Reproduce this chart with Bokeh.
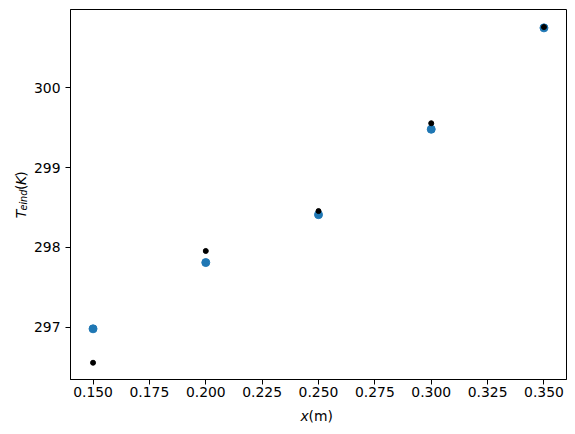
import math
from bokeh.plotting import figure
from bokeh.layouts import row, column
from bokeh.models import Range1d, FixedTicker, PrintfTickFormatter
from bokeh.core.properties import value
from bokeh.embed import file_html
from bokeh.resources import INLINE

# data
x_pos = [0.15, 0.20, 0.25, 0.30, 0.35]
t_model = [296.98, 297.81, 298.41, 299.48, 300.75]
t_meas = [296.555, 297.955, 298.455, 299.555, 300.76]
x_ticks = [0.150, 0.175, 0.200, 0.225, 0.250, 0.275, 0.300, 0.325, 0.350]
y_ticks = [297, 298, 299, 300]

FONT = "DejaVu Sans"
FS = "13.9px"
FS_SUB = "9.7px"

H = 404  # height of the main row

# ---- main plot ----
p = figure(width=545, height=H, output_backend="svg", toolbar_location=None,
           x_range=Range1d(0.14, 0.36), y_range=Range1d(296.345, 300.98),
           min_border_left=40, min_border_right=9, min_border_top=9,
           min_border_bottom=H - 379)
p.background_fill_color = "white"
p.border_fill_color = "white"
p.xgrid.visible = False
p.ygrid.visible = False
p.outline_line_color = "black"
p.outline_line_width = 1
p.outline_line_alpha = 1

p.xaxis.ticker = FixedTicker(ticks=x_ticks)
p.yaxis.ticker = FixedTicker(ticks=y_ticks)
p.xaxis.formatter = PrintfTickFormatter(format="%.3f")
p.yaxis.formatter = PrintfTickFormatter(format="%d")
for ax in (p.xaxis, p.yaxis):
    ax.axis_line_color = "black"
    ax.major_tick_line_color = "black"
    ax.major_tick_out = 5
    ax.major_tick_in = 0
    ax.minor_tick_line_color = None
    ax.major_label_text_font = FONT
    ax.major_label_text_font_size = FS
    ax.major_label_text_color = "black"
p.xaxis.major_label_standoff = 2
p.yaxis.major_label_standoff = 5

p.scatter(x_pos, t_model, size=8, color="#1f77b4")
p.scatter(x_pos, t_meas, size=5, color="black")


def blank(w, h):
    f = figure(width=w, height=h, output_backend="svg", toolbar_location=None,
               x_range=Range1d(0, w), y_range=Range1d(0, h),
               min_border_left=0, min_border_right=0, min_border_top=0,
               min_border_bottom=0)
    f.axis.visible = False
    f.grid.visible = False
    f.outline_line_color = None
    f.background_fill_color = "white"
    f.border_fill_color = "white"
    return f


def txt(f, s, x, y, size=FS, style="normal", angle=0.0):
    f.text(x=[x], y=[y], text=[s], angle=angle,
           text_font=value(FONT), text_font_size=value(size),
           text_font_style=value(style), text_color="black",
           text_baseline="alphabetic", text_align="left")


# ---- y-axis label: T_eind(K) (rotated) ----
left = blank(30, H)
A = math.pi / 2
txt(left, "T", 20.7, H - 228.0, style="italic", angle=A)
txt(left, "eind", 22.7, H - 219.5, size=FS_SUB, style="italic", angle=A)
txt(left, "(", 20.7, H - 197.0, angle=A)
txt(left, "K", 20.7, H - 191.6, style="italic", angle=A)
txt(left, ")", 20.7, H - 182.5, angle=A)

# ---- x-axis label: x(m) ----
BH = 434 - H
bottom = blank(575, BH)
txt(bottom, "x", 299.9, 434 - 415, style="italic")
txt(bottom, "(m)", 308.1, 434 - 415)

layout = column(row(left, p, spacing=0), bottom, spacing=0)

open("out.html", "w").write(file_html(layout, INLINE))
